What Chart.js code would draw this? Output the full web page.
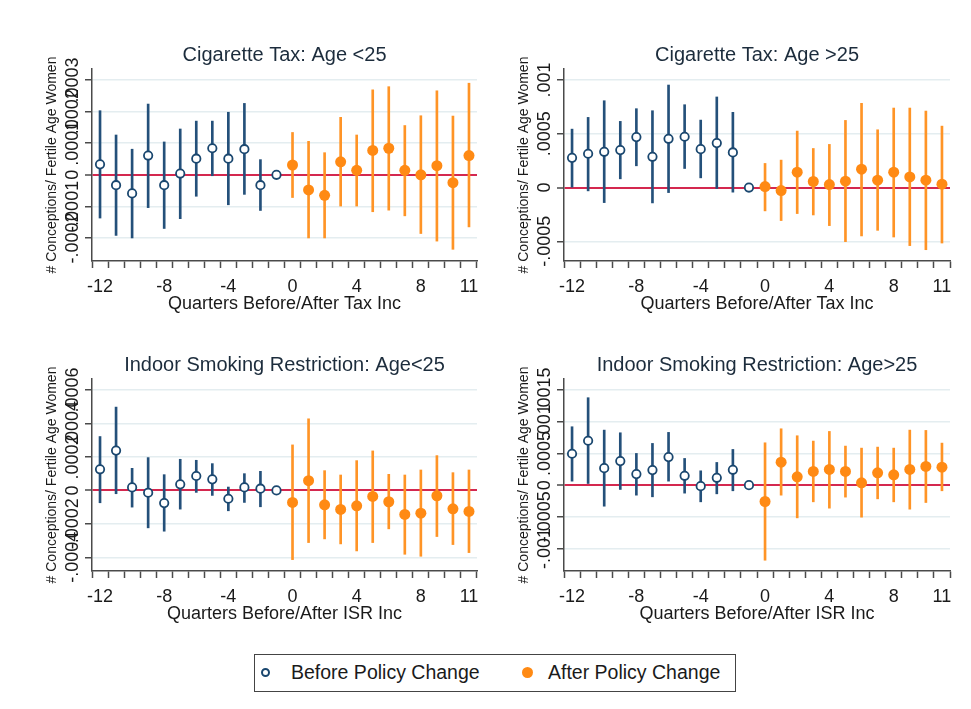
<!DOCTYPE html>
<html>
<head>
<meta charset="utf-8">
<script src="https://cdn.jsdelivr.net/npm/chart.js@4.4.0/dist/chart.umd.min.js"></script>
<style>
  body { margin: 0; background: #fff; font-family: Arial, "Liberation Sans", sans-serif; }
  #wrap { position: relative; width: 971px; height: 709px; overflow: hidden; }
  .panel { position: absolute; }
  #legend {
    position: absolute; left: 254px; top: 654px; width: 482px; height: 38px;
    border: 1.5px solid #444; box-sizing: border-box;
    font-size: 19.5px; color: #1a1a1a;
  }
  .dot { position: absolute; top: 13px; width: 9px; height: 9px; border-radius: 50%; box-sizing: border-box; }
  .lab { position: absolute; top: 6px; white-space: nowrap; }
</style>
</head>
<body>
<div id="wrap">
  <div class="panel" style="left:0px;top:40px"><canvas id="c1" width="490" height="280"></canvas></div>
  <div class="panel" style="left:472px;top:40px"><canvas id="c2" width="499" height="280"></canvas></div>
  <div class="panel" style="left:0px;top:350px"><canvas id="c3" width="490" height="280"></canvas></div>
  <div class="panel" style="left:472px;top:350px"><canvas id="c4" width="499" height="280"></canvas></div>
  <div id="legend">
    <div class="dot" style="left:6px;border:2px solid #1a476f;"></div>
    <div class="lab" style="left:36px;">Before Policy Change</div>
    <div class="dot" style="left:267px;top:12px;width:11px;height:11px;background:#ff8a14;"></div>
    <div class="lab" style="left:293px;">After Policy Change</div>
  </div>
</div>
<script>
// quarters relative to the policy change
var quarters = [-12, -11, -10, -9, -8, -7, -6, -5, -4, -3, -2, -1, 0, 1, 2, 3, 4, 5, 6, 7, 8, 9, 10, 11];
var xLabelQuarters = [-12, -8, -4, 0, 4, 8, 11];

// all estimates below are in units of 0.0001 conceptions per fertile age woman
// Cigarette Tax: Age <25
var cigU25Est = [0.33, -0.33, -0.59, 0.61, -0.33, 0.04, 0.51, 0.84, 0.51, 0.81, -0.33, 0, 0.31, -0.48, -0.65, 0.41, 0.14, 0.77, 0.84, 0.14, 0.00, 0.29, -0.25, 0.61];
var cigU25Hi = [2.03, 1.26, 0.81, 2.24, 1.04, 1.45, 1.70, 1.70, 1.98, 2.26, 0.48, null, 1.34, 1.06, 0.70, 1.82, 1.26, 2.69, 2.79, 1.56, 1.87, 2.66, 1.86, 2.90];
var cigU25Lo = [-1.37, -1.92, -2.00, -1.04, -1.70, -1.39, -0.68, -0.03, -0.95, -0.62, -1.13, null, -0.72, -2.00, -2.00, -0.99, -0.99, -1.17, -1.12, -1.30, -1.86, -2.10, -2.36, -1.65];
var cigU25Ticks = [-2, -1, 0, 1, 2, 3];
var cigU25TickLabels = ["-.0002", "-.0001", "0", ".0001", ".0002", ".0003"];

// Cigarette Tax: Age >25
var cigO25Est = [2.76, 3.14, 3.32, 3.48, 4.69, 2.86, 4.53, 4.72, 3.57, 4.13, 3.26, 0, 0.09, -0.28, 1.43, 0.56, 0.28, 0.59, 1.71, 0.68, 1.43, 0.99, 0.68, 0.31];
var cigO25Hi = [5.43, 6.52, 8.07, 6.15, 7.33, 7.14, 9.53, 7.70, 6.27, 8.42, 6.99, null, 2.24, 2.55, 5.25, 3.63, 4.01, 6.24, 7.83, 5.37, 7.39, 7.39, 7.11, 5.71];
var cigO25Lo = [0.03, -0.31, -1.40, 0.81, 2.02, -1.43, -0.47, 1.77, 0.90, -0.09, -0.43, null, -2.17, -3.07, -2.42, -2.55, -3.54, -5.03, -4.50, -3.98, -4.60, -5.40, -5.78, -5.16];
var cigO25Ticks = [-5, 0, 5, 10];
var cigO25TickLabels = ["-.0005", "0", ".0005", ".001"];

// Indoor Smoking Restriction: Age<25
var isrU25Est = [1.26, 2.38, 0.18, -0.14, -0.76, 0.36, 0.86, 0.66, -0.50, 0.18, 0.10, 0, -0.72, 0.58, -0.86, -1.14, -0.92, -0.36, -0.68, -1.44, -1.36, -0.32, -1.10, -1.26];
var isrU25Hi = [3.22, 4.98, 1.32, 1.96, 0.94, 1.86, 1.80, 1.60, 0.20, 1.00, 1.14, null, 2.72, 4.28, 1.18, 0.92, 1.78, 2.36, 0.96, 0.92, 1.22, 2.08, 1.06, 1.22];
var isrU25Lo = [-0.74, -0.20, -1.00, -2.24, -2.44, -1.12, -0.12, -0.30, -1.22, -0.72, -0.98, null, -4.14, -3.12, -2.90, -3.20, -3.62, -3.12, -2.30, -3.82, -3.94, -2.76, -3.24, -3.72];
var isrU25Ticks = [-4, -2, 0, 2, 4, 6];
var isrU25TickLabels = ["-.0004", "-.0002", "0", ".0002", ".0004", ".0006"];

// Indoor Smoking Restriction: Age>25
var isrO25Est = [4.95, 7.00, 2.68, 3.79, 1.74, 2.37, 4.42, 1.47, -0.16, 1.16, 2.42, 0, -2.58, 3.63, 1.32, 2.16, 2.47, 2.16, 0.37, 1.95, 1.63, 2.47, 2.95, 2.84];
var isrO25Hi = [9.21, 13.79, 8.68, 8.26, 5.00, 6.58, 8.32, 4.21, 2.26, 3.58, 5.63, null, 6.68, 8.89, 7.79, 6.95, 8.47, 6.16, 5.84, 6.00, 5.84, 8.68, 8.63, 6.63];
var isrO25Lo = [0.63, 0.26, -3.32, -0.68, -1.58, -1.84, 0.63, -1.26, -2.63, -1.37, -0.89, null, -11.84, -1.58, -5.16, -2.63, -3.63, -1.89, -5.05, -2.16, -2.63, -3.79, -2.74, -0.89];
var isrO25Ticks = [-10, -5, 0, 5, 10, 15];
var isrO25TickLabels = ["-.001", "-.0005", "0", ".0005", ".001", ".0015"];

var navy = "#1a476f";
var orange = "#ff8a14";
var zeroRed = "#d4284f";
var axisGrey = "#4a4a4a";
var fontFam = "Arial, 'Liberation Sans', sans-serif";

function buildPanel(id, title, xTitle, est, lo, hi, yMin, yMax, yTicks, yTickLabels, padRight) {
    var beforePts = [], afterPts = [], beforeBars = [], afterBars = [];
    for (var i = 0; i < quarters.length; i++) {
        var q = quarters[i];
        var pts = q < 0 ? beforePts : afterPts;
        var bars = q < 0 ? beforeBars : afterBars;
        pts.push({ x: q, y: est[i] });
        if (lo[i] !== null && hi[i] !== null) {
            bars.push({ x: q, y: [lo[i], hi[i]] });
        }
    }

    var ctx = document.getElementById(id).getContext('2d');
    return new Chart(ctx, {
        type: 'scatter',
        data: {
            datasets: [
                { type: 'bar', data: beforeBars, backgroundColor: '#24507a', barThickness: 2, grouped: false, order: 2 },
                { type: 'bar', data: afterBars, backgroundColor: '#ff9426', barThickness: 2, grouped: false, order: 2 },
                { data: beforePts, pointStyle: 'circle', pointRadius: 4.2, borderWidth: 1.8,
                  borderColor: navy, backgroundColor: '#ffffff', order: 0 },
                { data: afterPts, pointStyle: 'circle', pointRadius: 5.5, borderWidth: 0,
                  borderColor: orange, backgroundColor: orange, order: 0 }
            ]
        },
        options: {
            responsive: false,
            animation: false,
            events: [],
            layout: { padding: { top: 0, left: 0, right: padRight, bottom: 0 } },
            plugins: {
                legend: { display: false },
                tooltip: { enabled: false },
                title: {
                    display: true, text: title, fullSize: false, color: '#1c2c3c',
                    font: { family: fontFam, size: 20, weight: 'normal' },
                    padding: { top: 3, bottom: 2 }
                }
            },
            scales: {
                x: {
                    type: 'linear', min: -12.5, max: 11.5, offset: false,
                    afterBuildTicks: function (scale) {
                        scale.ticks = quarters.map(function (q) { return { value: q }; });
                    },
                    afterFit: function (scale) { scale.height = 59; },
                    ticks: {
                        autoSkip: false, maxRotation: 0, padding: 8, color: '#1a1a1a',
                        font: { family: fontFam, size: 18 },
                        callback: function (v) { return xLabelQuarters.indexOf(v) >= 0 ? String(v) : ''; }
                    },
                    grid: { drawOnChartArea: false, drawTicks: true, tickLength: 7, tickColor: axisGrey, tickWidth: 1.5 },
                    border: { display: true, color: axisGrey, width: 1.5 },
                    title: {
                        display: true, text: xTitle, color: '#1a1a1a',
                        font: { family: fontFam, size: 18 }, padding: { top: 0, bottom: 5 }
                    }
                },
                y: {
                    type: 'linear', min: yMin, max: yMax,
                    afterBuildTicks: function (scale) {
                        scale.ticks = yTicks.map(function (v) { return { value: v }; });
                    },
                    afterFit: function (scale) { scale.width = 92; },
                    ticks: {
                        autoSkip: false, minRotation: 90, maxRotation: 90, crossAlign: 'center',
                        padding: -13.5, color: '#1a1a1a', font: { family: fontFam, size: 18 },
                        callback: function (v, idx) { return yTickLabels[idx]; }
                    },
                    grid: {
                        drawTicks: true, tickLength: 7, tickColor: axisGrey, tickWidth: 1.5,
                        color: function (c) { return c.tick && c.tick.value === 0 ? zeroRed : '#e4edf0'; },
                        lineWidth: function (c) { return c.tick && c.tick.value === 0 ? 2 : 1.5; }
                    },
                    border: { display: true, color: axisGrey, width: 1.5 },
                    title: {
                        display: true, text: '# Conceptions/ Fertile Age Women', color: '#1a1a1a',
                        font: { family: fontFam, size: 14 }, padding: { top: 43.6, bottom: 0 }
                    }
                }
            }
        }
    });
}

buildPanel('c1', 'Cigarette Tax: Age <25', 'Quarters Before/After Tax Inc',
    cigU25Est, cigU25Lo, cigU25Hi, -2.73, 3.35, cigU25Ticks, cigU25TickLabels, 13);
buildPanel('c2', 'Cigarette Tax: Age >25', 'Quarters Before/After Tax Inc',
    cigO25Est, cigO25Lo, cigO25Hi, -6.83, 11.02, cigO25Ticks, cigO25TickLabels, 21);
buildPanel('c3', 'Indoor Smoking Restriction: Age<25', 'Quarters Before/After ISR Inc',
    isrU25Est, isrU25Lo, isrU25Hi, -4.82, 6.66, isrU25Ticks, isrU25TickLabels, 13);
buildPanel('c4', 'Indoor Smoking Restriction: Age>25', 'Quarters Before/After ISR Inc',
    isrO25Est, isrO25Lo, isrO25Hi, -13.54, 16.74, isrO25Ticks, isrO25TickLabels, 21);
</script>
</body>
</html>
